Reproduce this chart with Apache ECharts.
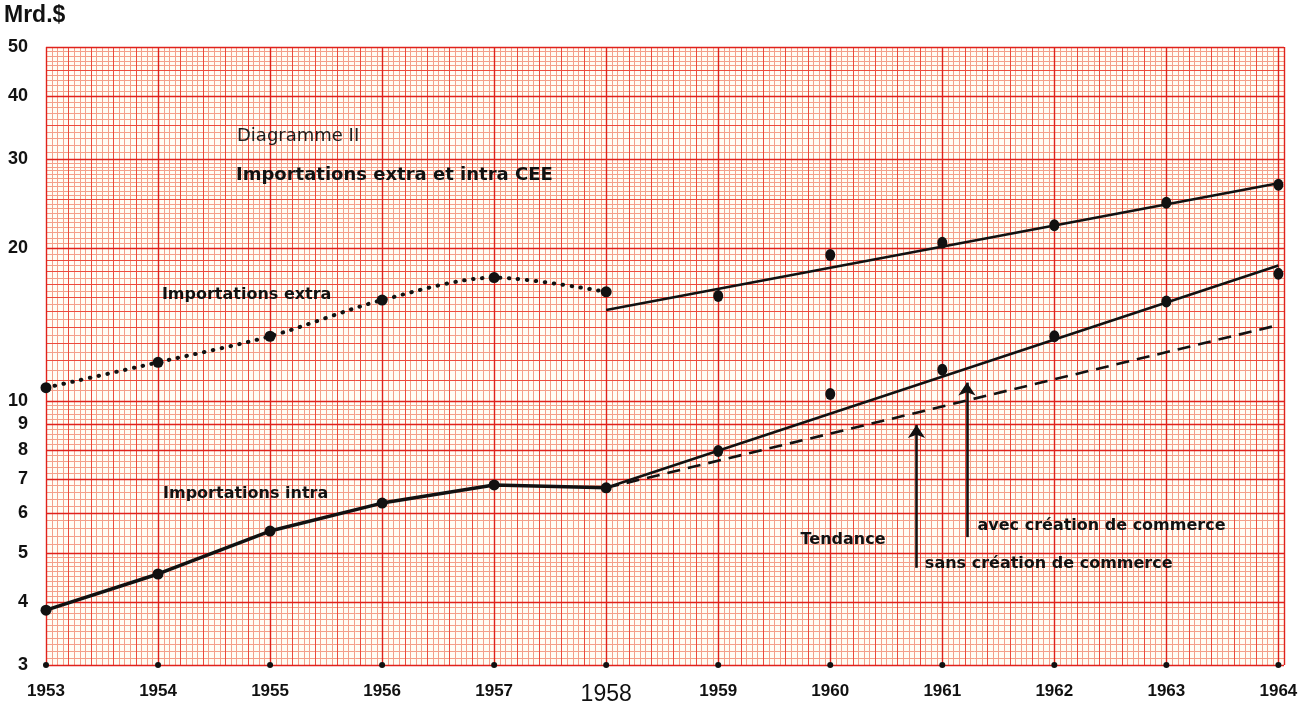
<!DOCTYPE html>
<html>
<head>
<meta charset="utf-8">
<style>html,body{margin:0;padding:0;background:#fff}#c{width:1308px;height:707px}</style>
<script src="https://cdn.jsdelivr.net/npm/echarts@6/dist/echarts.min.js"></script>
</head>
<body>
<div id="c"></div>
<script>
// ---- data ----
const years = [1953, 1954, 1955, 1956, 1957, 1958, 1959, 1960, 1961, 1962, 1963, 1964];
const yTickLabels = [3, 4, 5, 6, 7, 8, 9, 10, 20, 30, 40, 50];

const earlyYears = [1953, 1954, 1955, 1956, 1957, 1958];
const extraEarly = [10.6, 11.9, 13.4, 15.8, 17.5, 16.4];
const intraEarly = [3.85, 4.54, 5.52, 6.27, 6.81, 6.72];

const lateYears = [1959, 1960, 1961, 1962, 1963, 1964];
const extraLate = [16.1, 19.4, 20.5, 22.2, 24.6, 26.7];
const intraLate = [7.95, 10.3, 11.5, 13.4, 15.7, 17.8];

const trendYears = [1958, 1964];
const extraTrend = [15.1, 26.9];
const intraTrendAvec = [6.72, 18.5];
const intraTrendSans = [6.72, 14.1];

const arrowX = [1960.77, 1961.22];
const arrowFrom = [4.67, 5.37];
const arrowTo = [8.95, 10.85];

const noteTexts = ['Importations extra', 'Importations intra', 'Tendance', 'avec création de commerce', 'sans création de commerce'];
const noteX = [1954.03, 1954.04, 1959.73, 1961.31, 1960.84];
const noteY = [16.2, 6.53, 5.30, 5.65, 4.75];

// ---- graph-paper rulings (value space) ----
function range(a, b, s) { const r = []; for (let v = a; v <= b + 1e-9; v += s) r.push(Math.round(v * 1000) / 1000); return r; }
const vMajor = years.slice();
const vMedium = range(1953, 1964.05, 0.2).filter(v => Math.abs(v - Math.round(v)) > 1e-6);
const vFine = range(1953, 1964.05, 0.05);
const hMajor = yTickLabels.slice();
const hMedium = range(11, 19, 1).concat([25, 35, 45]);
const hFine = range(3, 5, 0.1).concat(range(5, 10, 0.2), range(10, 20, 0.5), range(20, 30, 0.5), range(30, 50, 1));

const pair = (xs, ys) => xs.map((x, i) => [x, ys[i]]);
const FONT_T = "'DejaVu Sans', sans-serif";
const FONT_A = "'Liberation Sans', Arial, sans-serif";
const INK = '#111111';

const chart = echarts.init(document.getElementById('c'), null, { renderer: 'canvas' });

function renderPaper(params, api) {
  const cs = params.coordSys;
  const children = [];
  const x0 = cs.x, x1 = cs.x + cs.width, y0 = cs.y, y1 = cs.y + cs.height;
  function vl(v, stroke, w) {
    const px = Math.round(api.coord([v, 10])[0]) + 0.5;
    children.push({ type: 'line', silent: true, shape: { x1: px, y1: y0, x2: px, y2: y1 }, style: { stroke: stroke, lineWidth: w } });
  }
  function hl(v, stroke, w) {
    const py = Math.round(api.coord([1953, v])[1]) + 0.5;
    children.push({ type: 'line', silent: true, shape: { x1: x0, y1: py, x2: x1, y2: py }, style: { stroke: stroke, lineWidth: w } });
  }
  const fine = '#f4a08a', med = '#ec4a3c', maj = '#e0221c';
  vFine.forEach(v => vl(v, fine, 1));
  hFine.forEach(v => hl(v, fine, 1));
  vMedium.forEach(v => vl(v, med, 1));
  hMedium.forEach(v => hl(v, med, 1));
  vMajor.forEach(v => vl(v, maj, 1.4));
  hMajor.forEach(v => hl(v, maj, 1.4));
  vl(1964.05, maj, 1.4);
  return { type: 'group', children: children };
}

const dotStyle = { color: INK, opacity: 1 };

const option = {
  backgroundColor: '#ffffff',
  animation: false,
  title: [
    { text: 'Mrd.$', left: 4, top: 4, padding: 0, textStyle: { fontFamily: FONT_A, fontWeight: 'bold', fontSize: 23, color: INK } },
    { text: 'Diagramme II', left: 237, top: 127, padding: 0, textStyle: { fontFamily: FONT_T, fontWeight: 'normal', fontSize: 18, color: '#1c1c1c' } },
    { text: 'Importations extra et intra CEE', left: 236, top: 166, padding: 0, textStyle: { fontFamily: FONT_T, fontWeight: 'bold', fontSize: 18, color: INK } }
  ],
  grid: { left: 46, right: 24, top: 47, bottom: 42, show: true, backgroundColor: '#fffdf5', borderWidth: 0 },
  xAxis: {
    type: 'value', min: 1953, max: 1964.05,
    axisLine: { show: false }, axisTick: { show: false }, splitLine: { show: false },
    axisLabel: {
      customValues: years, margin: 18, fontFamily: FONT_A, fontSize: 17, fontWeight: 'bold', color: INK,
      formatter: v => (v === 1958 ? '{big|1958}' : String(v)),
      rich: { big: { fontFamily: FONT_A, fontSize: 23, fontWeight: 'normal', color: INK } }
    }
  },
  yAxis: {
    type: 'log', logBase: 10, min: 3, max: 50,
    axisLine: { show: false }, axisTick: { show: false }, splitLine: { show: false },
    axisLabel: { customValues: yTickLabels, margin: 18, fontFamily: FONT_A, fontSize: 18, fontWeight: 'bold', color: INK }
  },
  series: [
    { type: 'custom', name: 'paper', z: 1, silent: true, clip: false, renderItem: renderPaper, data: [[1953, 10]] },
    {
      type: 'scatter', name: 'ticks', z: 4, silent: true, clip: false,
      data: years.map(y => [y, 3]), symbolSize: 6, itemStyle: dotStyle
    },
    {
      type: 'line', name: 'Importations extra', z: 5, clip: false, smooth: 0.3,
      data: pair(earlyYears, extraEarly), symbol: 'circle', symbolSize: 11, showAllSymbol: true,
      itemStyle: dotStyle,
      lineStyle: { color: INK, width: 4, type: [0.5, 8.5], cap: 'round' }
    },
    {
      type: 'line', name: 'Importations intra', z: 5, clip: false,
      data: pair(earlyYears, intraEarly), symbol: 'circle', symbolSize: 11,
      itemStyle: dotStyle, lineStyle: { color: INK, width: 3.5 }
    },
    {
      type: 'scatter', name: 'extra 1959-64', z: 6, clip: false,
      data: pair(lateYears, extraLate), symbol: 'circle', symbolSize: [10, 12], itemStyle: dotStyle
    },
    {
      type: 'scatter', name: 'intra 1959-64', z: 6, clip: false,
      data: pair(lateYears, intraLate), symbol: 'circle', symbolSize: [10, 12], itemStyle: dotStyle
    },
    {
      type: 'line', name: 'Tendance extra', z: 5, clip: false, symbol: 'none',
      data: pair(trendYears, extraTrend), lineStyle: { color: INK, width: 2.6 }
    },
    {
      type: 'line', name: 'avec création de commerce', z: 5, clip: false, symbol: 'none',
      data: pair(trendYears, intraTrendAvec), lineStyle: { color: INK, width: 2.6 }
    },
    {
      type: 'line', name: 'sans création de commerce', z: 5, clip: false, symbol: 'none',
      data: pair(trendYears, intraTrendSans), lineStyle: { color: INK, width: 2.6, type: [13, 8] },
      markLine: {
        silent: true, symbol: ['none', 'arrow'], symbolSize: 13, animation: false,
        label: { show: false },
        itemStyle: { color: INK },
        lineStyle: { color: INK, width: 2.6, type: 'solid', opacity: 1 },
        data: arrowX.map((x, i) => [{ coord: [x, arrowFrom[i]] }, { coord: [x, arrowTo[i]] }])
      }
    },
    {
      type: 'scatter', name: 'notes', z: 7, silent: true, clip: false,
      symbolSize: 1, itemStyle: { color: 'rgba(0,0,0,0)', opacity: 1 },
      label: { show: true, position: 'right', distance: 0, formatter: '{b}', fontFamily: FONT_T, fontWeight: 'bold', fontSize: 16, color: INK, opacity: 1 },
      data: noteTexts.map((t, i) => ({ name: t, value: [noteX[i], noteY[i]] }))
    }
  ]
};
chart.setOption(option);
</script>
</body>
</html>
